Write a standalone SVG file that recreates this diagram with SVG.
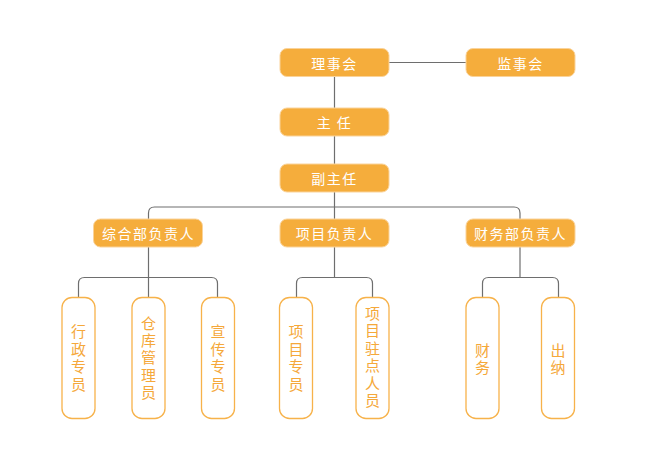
<svg xmlns="http://www.w3.org/2000/svg" width="646" height="449" viewBox="0 0 646 449">
<style>
.hd{fill:#F5AD3C;stroke:#FAD39A;stroke-width:1}
.hdt{fill:#fff;font-family:"Noto Sans CJK SC","Noto Sans",sans-serif;font-size:14px;letter-spacing:1.5px;text-anchor:middle;dominant-baseline:central}
.lf{fill:#fff;stroke:#F7B24A;stroke-width:1.3}
.lft{fill:#F5A83A;font-family:"Noto Sans CJK SC","Noto Sans",sans-serif;font-size:15px;text-anchor:middle;dominant-baseline:central;writing-mode:vertical-rl;text-orientation:upright;letter-spacing:2.4px}
.cn{fill:none;stroke:#6E6E6E;stroke-width:1.2}
</style>
<rect width="646" height="449" fill="#fff"/>
<g id="connectors">
<path class="cn" d="M389 62.5H466"/>
<path class="cn" d="M334.5 76V108M334.5 136V164M334.5 192V219"/>
<path class="cn" d="M148.5 219V213Q148.5 207 154.5 207H514Q520 207 520 213V219"/>
<path class="cn" d="M148.5 247V297"/>
<path class="cn" d="M78.5 297V283.5Q78.5 277.5 84.5 277.5H211.5Q217.5 277.5 217.5 283.5V297"/>
<path class="cn" d="M334.5 247V277.5"/>
<path class="cn" d="M296.5 297V283.5Q296.5 277.5 302.5 277.5H366.5Q372.5 277.5 372.5 283.5V297"/>
<path class="cn" d="M520 247V277.5"/>
<path class="cn" d="M482.5 297V283.5Q482.5 277.5 488.5 277.5H552.5Q558.5 277.5 558.5 283.5V297"/>
</g>
<g id="n-lishihui"><rect class="hd" x="280" y="48.5" width="109" height="28" rx="7"/><text class="hdt" x="334.5" y="62.5">理事会</text></g>
<g id="n-jianshihui"><rect class="hd" x="466" y="48.5" width="109" height="28" rx="7"/><text class="hdt" x="520.5" y="62.5">监事会</text></g>
<g id="n-zhuren"><rect class="hd" x="280" y="108" width="109" height="28" rx="7"/><text class="hdt" x="334.5" y="122">主 任</text></g>
<g id="n-fuzhuren"><rect class="hd" x="280" y="164" width="109" height="28" rx="7"/><text class="hdt" x="334.5" y="178">副主任</text></g>
<g id="n-zonghe"><rect class="hd" x="93.5" y="219" width="109" height="28" rx="7"/><text class="hdt" x="148.5" y="233">综合部负责人</text></g>
<g id="n-xiangmu"><rect class="hd" x="280" y="219" width="109" height="28" rx="7"/><text class="hdt" x="334.5" y="233">项目负责人</text></g>
<g id="n-caiwu"><rect class="hd" x="466" y="219" width="109" height="28" rx="7"/><text class="hdt" x="520.5" y="233">财务部负责人</text></g>
<g id="n-xingzheng"><rect class="lf" x="62" y="297.5" width="33" height="121" rx="10"/><text class="lft" x="78.5" y="359">行政专员</text></g>
<g id="n-cangku"><rect class="lf" x="132" y="297.5" width="33" height="121" rx="10"/><text class="lft" x="148.5" y="359">仓库管理员</text></g>
<g id="n-xuanchuan"><rect class="lf" x="201.5" y="297.5" width="33" height="121" rx="10"/><text class="lft" x="218" y="359">宣传专员</text></g>
<g id="n-xiangmuzhuanyuan"><rect class="lf" x="279.5" y="297.5" width="33" height="121" rx="10"/><text class="lft" x="296" y="359">项目专员</text></g>
<g id="n-zhudian"><rect class="lf" x="356" y="297.5" width="33" height="121" rx="10"/><text class="lft" x="372.5" y="358">项目驻点人员</text></g>
<g id="n-caiwu2"><rect class="lf" x="466" y="297.5" width="33" height="121" rx="10"/><text class="lft" x="482.5" y="360">财务</text></g>
<g id="n-chuna"><rect class="lf" x="541.5" y="297.5" width="33" height="121" rx="10"/><text class="lft" x="558" y="360">出纳</text></g>
</svg>
